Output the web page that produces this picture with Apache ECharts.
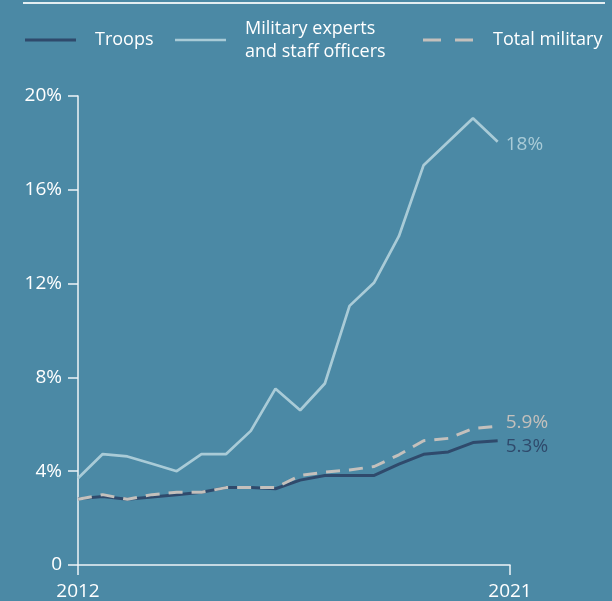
<!DOCTYPE html>
<html>
<head>
<meta charset="utf-8">
<script src="https://cdn.jsdelivr.net/npm/echarts@6/dist/echarts.min.js"></script>
<style>
html,body{margin:0;padding:0;background:#4b89a5;}
#chart{width:612px;height:601px;}
</style>
</head>
<body>
<div id="chart"></div>
<script>
// Data (share of women, %), 18 observations from 2012 to 2021
const troops  = [2.82, 2.92, 2.80, 2.90, 3.00, 3.10, 3.30, 3.30, 3.25, 3.62, 3.82, 3.82, 3.82, 4.30, 4.72, 4.82, 5.22, 5.30];
const experts = [3.70, 4.73, 4.63, 4.32, 4.00, 4.73, 4.73, 5.72, 7.52, 6.60, 7.74, 11.05, 12.05, 14.02, 17.05, 18.05, 19.05, 18.05];
const total   = [2.80, 3.00, 2.80, 3.00, 3.10, 3.10, 3.30, 3.30, 3.30, 3.82, 3.96, 4.05, 4.20, 4.70, 5.30, 5.40, 5.82, 5.92];
const seriesNames = ['Troops', 'Military experts\nand staff officers', 'Total military'];
const endLabels = ['5.3%', '18%', '5.9%'];
const xTickLabels = ['2012', '2021'];
const yTicks = [0, 4, 8, 12, 16, 20];

const FONT = '"Open Sans", Roboto, sans-serif';
const FS = 18;
const FSN = 19;
const C_TROOPS = '#2f4a6c';
const C_EXPERTS = '#a9cbd7';
const C_TOTAL = '#c4c0bc';
const C_AXIS = '#eef4f7';

const toPairs = arr => arr.map((v, i) => [i, v]);
const xMax = 17.5;

const chart = echarts.init(document.getElementById('chart'), null, {renderer: 'canvas'});
chart.setOption({
  backgroundColor: '#4b89a5',
  animation: false,
  grid: {left: 78, right: 102, top: 96, bottom: 34, containLabel: false},
  xAxis: {
    type: 'value', min: 0, max: xMax, interval: xMax,
    axisLine: {show: true, lineStyle: {color: C_AXIS, width: 1.5}},
    axisTick: {show: true, length: 10, lineStyle: {color: C_AXIS, width: 1.5}},
    axisLabel: {color: '#ffffff', fontSize: FSN, fontFamily: FONT, margin: 17,
      formatter: v => v === 0 ? xTickLabels[0] : xTickLabels[1]},
    splitLine: {show: false}
  },
  yAxis: {
    type: 'value', min: yTicks[0], max: yTicks[yTicks.length - 1], interval: yTicks[1] - yTicks[0],
    axisLine: {show: true, lineStyle: {color: C_AXIS, width: 1.5}},
    axisTick: {show: true, length: 10, lineStyle: {color: C_AXIS, width: 1.5}},
    axisLabel: {color: '#ffffff', fontSize: FSN, fontFamily: FONT, margin: 16,
      formatter: v => v === 0 ? '0' : v + '%'},
    splitLine: {show: false}
  },
  series: [
    {
      name: seriesNames[0], type: 'line', data: toPairs(troops), symbol: 'none', z: 3,
      lineStyle: {color: C_TROOPS, width: 3},
      endLabel: {show: true, formatter: endLabels[0], color: C_TROOPS, fontSize: FSN, fontFamily: FONT, distance: 8, offset: [0, 6]}
    },
    {
      name: seriesNames[1], type: 'line', data: toPairs(experts), symbol: 'none', z: 2,
      lineStyle: {color: C_EXPERTS, width: 2.7},
      endLabel: {show: true, formatter: endLabels[1], color: C_EXPERTS, fontSize: FSN, fontFamily: FONT, distance: 8, offset: [0, 3]}
    },
    {
      name: seriesNames[2], type: 'line', data: toPairs(total), symbol: 'none', z: 4,
      lineStyle: {color: C_TOTAL, width: 3, type: [14, 9]},
      endLabel: {show: true, formatter: endLabels[2], color: C_TOTAL, fontSize: FSN, fontFamily: FONT, distance: 8, offset: [0, -4]}
    }
  ],
  graphic: [
    {type: 'line', shape: {x1: 23, y1: 3, x2: 605, y2: 3}, style: {stroke: '#e3eef2', lineWidth: 2}},
    {type: 'line', shape: {x1: 25, y1: 40, x2: 76, y2: 40}, style: {stroke: C_TROOPS, lineWidth: 3}},
    {type: 'text', x: 95, y: 40, style: {text: seriesNames[0], fill: '#ffffff', font: FS + 'px ' + FONT, textVerticalAlign: 'middle'}},
    {type: 'line', shape: {x1: 175, y1: 40, x2: 226, y2: 40}, style: {stroke: C_EXPERTS, lineWidth: 2.7}},
    {type: 'text', x: 245, y: 40, style: {text: seriesNames[1], fill: '#ffffff', font: FS + 'px ' + FONT, textVerticalAlign: 'middle', lineHeight: 23}},
    {type: 'line', shape: {x1: 423, y1: 40, x2: 473, y2: 40}, style: {stroke: C_TOTAL, lineWidth: 3, lineDash: [18, 14]}},
    {type: 'text', x: 493, y: 40, style: {text: seriesNames[2], fill: '#ffffff', font: FS + 'px ' + FONT, textVerticalAlign: 'middle'}}
  ]
});
</script>
</body>
</html>
